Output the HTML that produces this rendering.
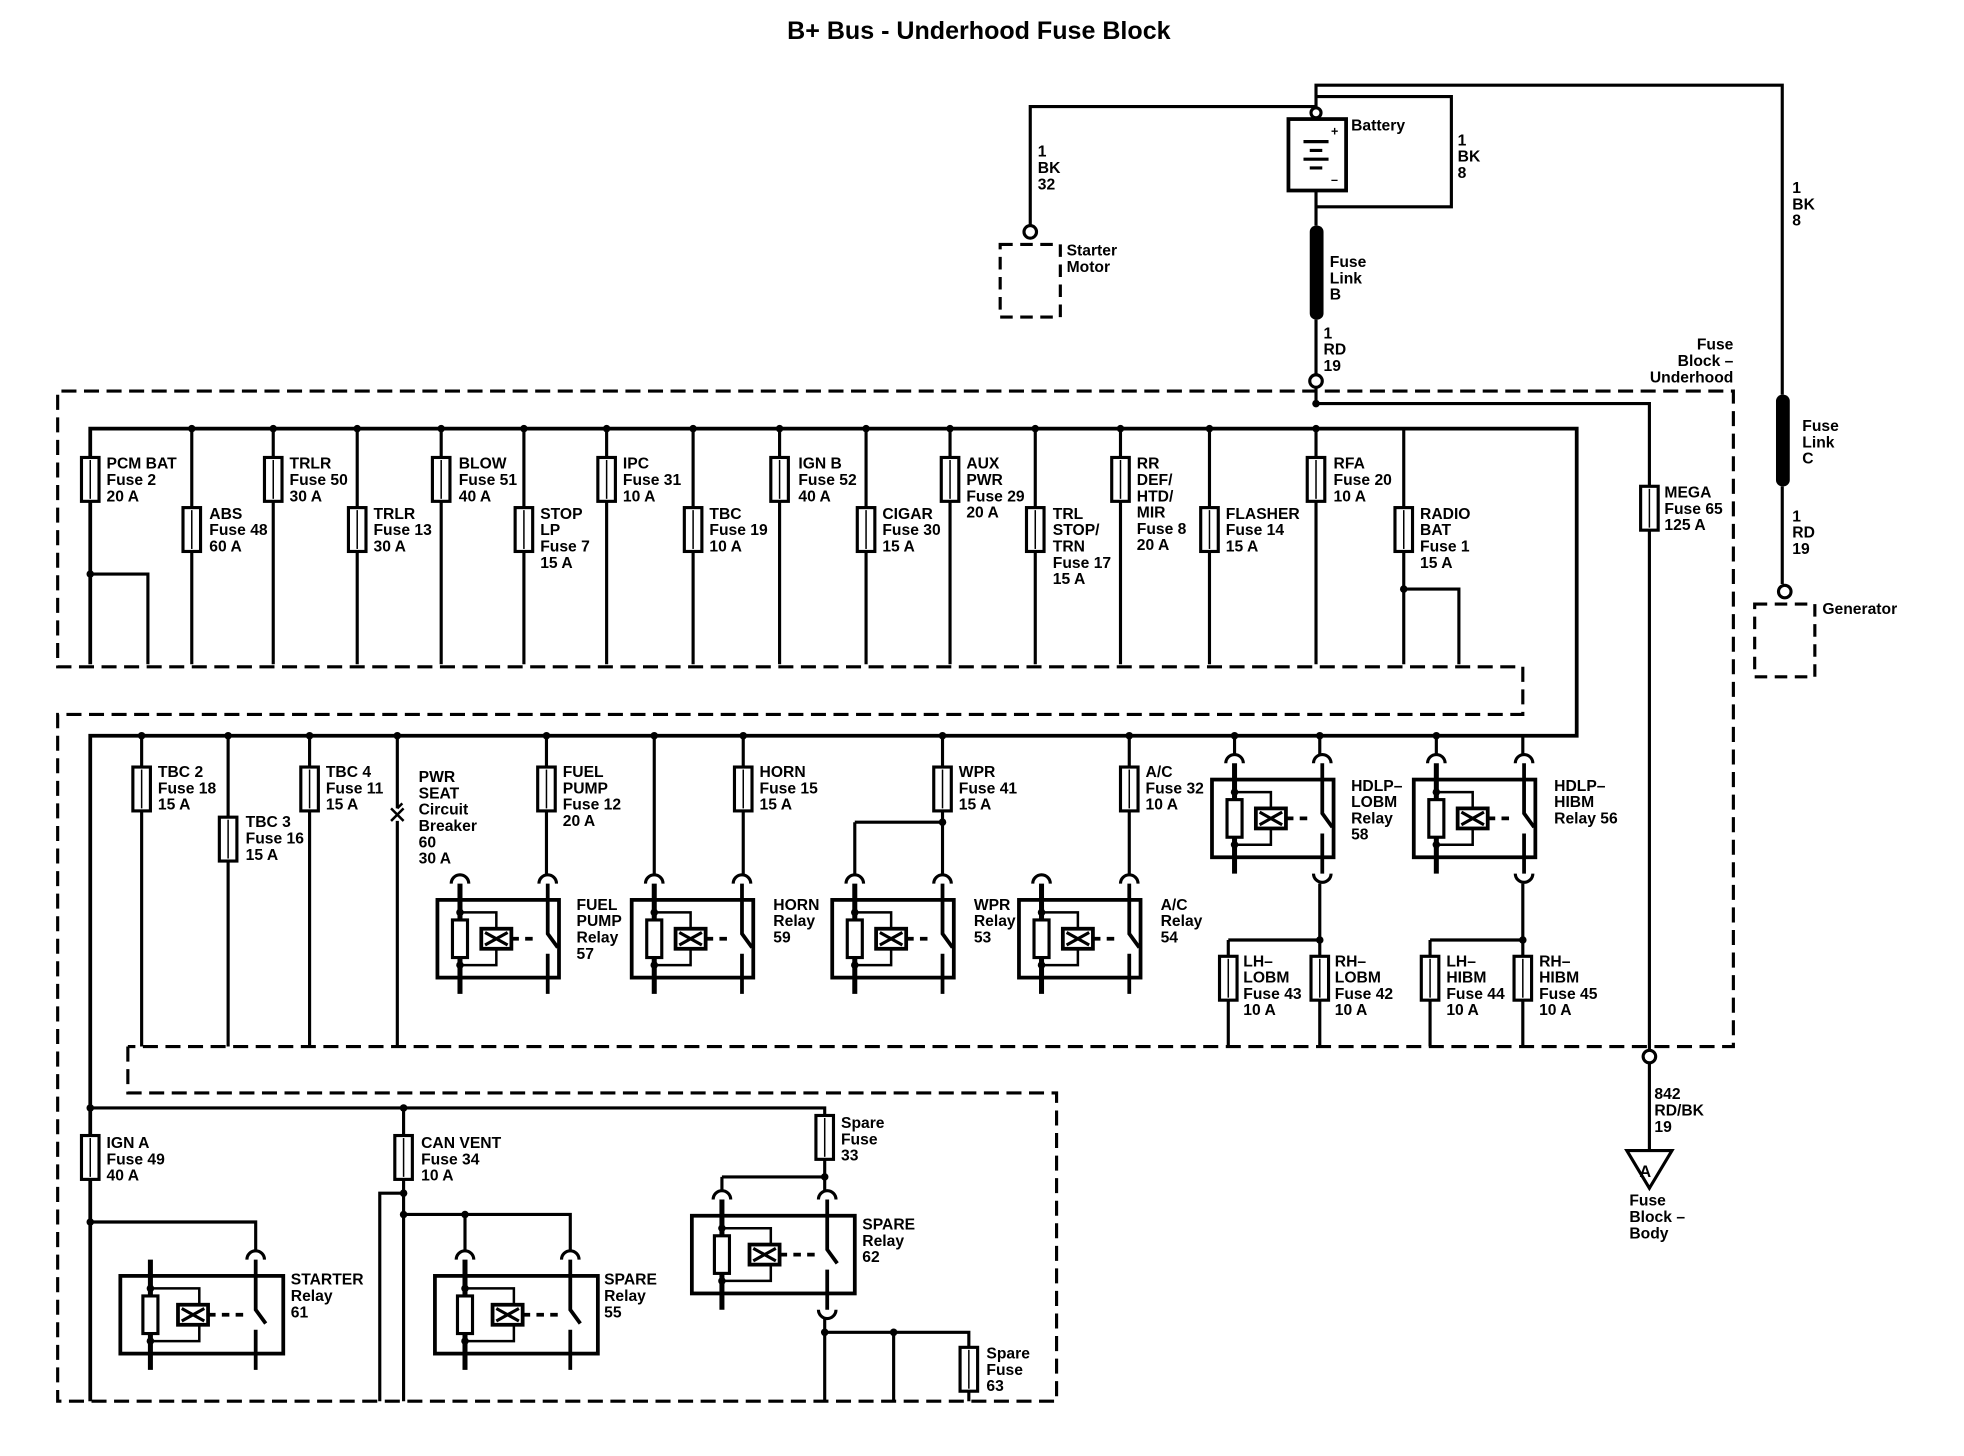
<!DOCTYPE html>
<html><head><meta charset="utf-8"><style>
html,body{margin:0;padding:0;background:#fff}
svg{display:block}
text{font-family:"Liberation Sans",Arial,sans-serif;font-weight:bold;font-size:12.5px;fill:#000}
</style></head><body>
<svg width="1964" height="1456" viewBox="0 0 1567 1161.7" xmlns="http://www.w3.org/2000/svg">
<defs>
<g id="fu"><rect x="-7" y="0" width="14" height="35" fill="#fff" stroke="#000" stroke-width="2.5"/><line x1="0" y1="2" x2="0" y2="33" stroke="#000" stroke-width="1.2"/></g>
<path id="an" d="M-7 0 A7 7 0 0 1 7 0" fill="none" stroke="#000" stroke-width="2.5"/>
<path id="au" d="M-7 0 A7 7 0 0 0 7 0" fill="none" stroke="#000" stroke-width="2.5"/>
<g id="rA" stroke="#000" fill="none">
<rect x="-18" y="0" width="97" height="62" stroke-width="3"/>
<line x1="0" y1="-13" x2="0" y2="75" stroke-width="4"/>
<path d="M0 10 H29 V22 M0 52 H29 V40" stroke-width="2"/>
<rect x="-6" y="16" width="12" height="30" fill="#fff" stroke-width="2.5"/>
<rect x="17" y="23" width="24" height="16" fill="#fff" stroke-width="3"/>
<path d="M20 26 L38 36 M38 26 L20 36" stroke-width="2.5"/>
<line x1="41" y1="31" x2="62" y2="31" stroke-width="3" stroke-dasharray="6 5"/>
<path d="M70 -13 V27 L78 38 M70 43 V75" stroke-width="3"/>
<circle cx="0" cy="10" r="3" fill="#000" stroke="none"/><circle cx="0" cy="52" r="3" fill="#000" stroke="none"/>
</g>
<g id="rB" stroke="#000" fill="none">
<rect x="-24" y="0" width="130" height="62" stroke-width="3"/>
<line x1="0" y1="-13" x2="0" y2="75" stroke-width="4"/>
<path d="M0 10 H39 V22 M0 52 H39 V40" stroke-width="2"/>
<rect x="-6" y="16" width="12" height="30" fill="#fff" stroke-width="2.5"/>
<rect x="22" y="23" width="24" height="16" fill="#fff" stroke-width="3"/>
<path d="M25 26 L43 36 M43 26 L25 36" stroke-width="2.5"/>
<line x1="46" y1="31" x2="76" y2="31" stroke-width="3" stroke-dasharray="6 5"/>
<path d="M84 -13 V27 L92 38 M84 43 V75" stroke-width="3"/>
<circle cx="0" cy="10" r="3" fill="#000" stroke="none"/><circle cx="0" cy="52" r="3" fill="#000" stroke="none"/>
</g>
</defs>

<text x="781" y="31" text-anchor="middle" style="font-size:20px">B+ Bus - Underhood Fuse Block</text>

<path d="M102 835 V872 H843 V1118 H46 V570 H1215 V532 H46 V312 H1383 V835 H102" fill="none" stroke="#000" stroke-width="2.5" stroke-dasharray="12 6"/>

<g stroke="#000" stroke-width="2.5" fill="none">
<path d="M1050 86 V68 H1422 V315 M1422 388 V466"/>
<path d="M1050 85 H822 V180"/>
<path d="M1050 77 H1158 V165 H1050 V180 M1050 152 V165 M1050 255 V298 M1050 310 V322 H1316 V388 M1316 420 V838 M1316 848 V918"/>
<path d="M1298 918 H1334 L1316 948 Z"/>
<rect x="1028" y="95" width="46" height="57" stroke-width="3"/>
<path d="M1040 113 H1060 M1045 120 H1055 M1040 127 H1060 M1045 134 H1055"/>
<circle cx="822" cy="185" r="5"/><circle cx="1050" cy="304" r="5"/><circle cx="1424" cy="472" r="5"/><circle cx="1316" cy="843" r="5"/><circle cx="1050" cy="90" r="4"/>
<rect x="798" y="195" width="48" height="58" stroke-dasharray="10 6"/>
<rect x="1400" y="482" width="48" height="58" stroke-dasharray="10 6"/>
</g>
<rect x="1045" y="180" width="11" height="75" rx="5" fill="#000"/>
<rect x="1417" y="315" width="11" height="73" rx="5" fill="#000"/>
<text x="1062" y="108" style="font-size:10px">+</text><text x="1062" y="147" style="font-size:10px">–</text>
<text x="1308" y="939" style="font-size:13px">A</text>

<g stroke="#000" fill="none">
<path d="M72 530 V342 H1258 V587 H72 V1118" stroke-width="3"/>
<g stroke-width="2.5">
<path d="M72 458 H118 V530 M1120 470 H1164 V530"/>
<path d="M153 342V530 M218 342V530 M285 342V530 M352 342V530 M418 342V530 M484 342V530 M553 342V530 M622 342V530 M691 342V530 M758 342V530 M826 342V530 M894 342V530 M965 342V530 M1050 342V530 M1120 342V530"/>
<path d="M113 587V835 M182 587V835 M247 587V835 M317 587V645 M317 655V835"/>
<path d="M436 587V698 M522 587V698 M593 587V698 M752 587V698 M682 656H752 M682 656V698 M901 587V698"/>
<path d="M985 587V602 M1053 587V602 M1146 587V602 M1215 587V602"/>
<path d="M1053 705V835 M980 750H1053 M980 750V835 M1215 705V835 M1141 750H1215 M1141 750V835"/>
<path d="M72 884H658 V939 M576 939H658 M576 939V950 M658 939V950"/>
<path d="M72 975H204V998 M322 884V1118 M303 1118V952H322 M322 969H455V998 M371 969V998"/>
<path d="M658 1052V1118 M658 1063H773V1118 M713 1063V1118"/>
</g>
<path d="M312 645 L322 655 M322 645 L312 655 M317 645 L321 641" stroke-width="2"/>
</g>

<g fill="#000">
<circle cx="72" cy="458" r="3"/><circle cx="1120" cy="470" r="3"/>
<circle cx="113" cy="587" r="3"/><circle cx="182" cy="587" r="3"/><circle cx="247" cy="587" r="3"/><circle cx="317" cy="587" r="3"/><circle cx="436" cy="587" r="3"/><circle cx="522" cy="587" r="3"/><circle cx="593" cy="587" r="3"/><circle cx="752" cy="587" r="3"/><circle cx="901" cy="587" r="3"/><circle cx="985" cy="587" r="3"/><circle cx="1053" cy="587" r="3"/><circle cx="1146" cy="587" r="3"/>
<circle cx="752" cy="656" r="3"/><circle cx="1053" cy="750" r="3"/><circle cx="1215" cy="750" r="3"/>
<circle cx="72" cy="884" r="3"/><circle cx="322" cy="884" r="3"/><circle cx="658" cy="939" r="3"/><circle cx="72" cy="975" r="3"/><circle cx="322" cy="952" r="3"/><circle cx="322" cy="969" r="3"/><circle cx="371" cy="969" r="3"/><circle cx="658" cy="1063" r="3"/><circle cx="713" cy="1063" r="3"/>
<circle cx="1050" cy="322" r="3"/>
<circle cx="153" cy="342" r="3"/><circle cx="218" cy="342" r="3"/><circle cx="285" cy="342" r="3"/><circle cx="352" cy="342" r="3"/><circle cx="418" cy="342" r="3"/><circle cx="484" cy="342" r="3"/><circle cx="553" cy="342" r="3"/><circle cx="622" cy="342" r="3"/><circle cx="691" cy="342" r="3"/><circle cx="758" cy="342" r="3"/><circle cx="826" cy="342" r="3"/><circle cx="894" cy="342" r="3"/><circle cx="965" cy="342" r="3"/><circle cx="1050" cy="342" r="3"/>
</g>

<use href="#fu" x="1316" y="388"/>
<use href="#fu" x="72" y="365"/><use href="#fu" x="153" y="405"/><use href="#fu" x="218" y="365"/><use href="#fu" x="285" y="405"/><use href="#fu" x="352" y="365"/><use href="#fu" x="418" y="405"/><use href="#fu" x="484" y="365"/><use href="#fu" x="553" y="405"/><use href="#fu" x="622" y="365"/><use href="#fu" x="691" y="405"/><use href="#fu" x="758" y="365"/><use href="#fu" x="826" y="405"/><use href="#fu" x="894" y="365"/><use href="#fu" x="965" y="405"/><use href="#fu" x="1050" y="365"/><use href="#fu" x="1120" y="405"/>
<use href="#fu" x="113" y="612"/><use href="#fu" x="182" y="652"/><use href="#fu" x="247" y="612"/><use href="#fu" x="436" y="612"/><use href="#fu" x="593" y="612"/><use href="#fu" x="752" y="612"/><use href="#fu" x="901" y="612"/>
<use href="#fu" x="980" y="763"/><use href="#fu" x="1053" y="763"/><use href="#fu" x="1141" y="763"/><use href="#fu" x="1215" y="763"/>
<use href="#fu" x="72" y="906"/><use href="#fu" x="322" y="906"/><use href="#fu" x="658" y="890"/><use href="#fu" x="773" y="1075"/>

<use href="#rA" x="367" y="718"/><use href="#rA" x="522" y="718"/><use href="#rA" x="682" y="718"/><use href="#rA" x="831" y="718"/>
<use href="#rA" x="985" y="622"/><use href="#rA" x="1146" y="622"/>
<use href="#rB" x="120" y="1018"/><use href="#rB" x="371" y="1018"/><use href="#rB" x="576" y="970"/>
<use href="#an" x="367" y="705"/><use href="#an" x="437" y="705"/><use href="#an" x="522" y="705"/><use href="#an" x="592" y="705"/><use href="#an" x="682" y="705"/><use href="#an" x="752" y="705"/><use href="#an" x="831" y="705"/><use href="#an" x="901" y="705"/>
<use href="#an" x="985" y="609"/><use href="#an" x="1055" y="609"/><use href="#an" x="1146" y="609"/><use href="#an" x="1216" y="609"/>
<use href="#au" x="1055" y="697"/><use href="#au" x="1216" y="697"/>
<use href="#an" x="204" y="1005"/><use href="#an" x="371" y="1005"/><use href="#an" x="455" y="1005"/>
<use href="#an" x="576" y="957"/><use href="#an" x="660" y="957"/><use href="#au" x="660" y="1045"/>

<g>
<text x="828" y="125">1<tspan x="828" dy="13">BK</tspan><tspan x="828" dy="13">32</tspan></text>
<text x="851" y="204">Starter<tspan x="851" dy="13">Motor</tspan></text>
<text x="1078" y="104">Battery</text>
<text x="1163" y="116">1<tspan x="1163" dy="13">BK</tspan><tspan x="1163" dy="13">8</tspan></text>
<text x="1061" y="213">Fuse<tspan x="1061" dy="13">Link</tspan><tspan x="1061" dy="13">B</tspan></text>
<text x="1056" y="270">1<tspan x="1056" dy="13">RD</tspan><tspan x="1056" dy="13">19</tspan></text>
<text x="1383" y="279" text-anchor="end">Fuse<tspan x="1383" dy="13">Block –</tspan><tspan x="1383" dy="13">Underhood</tspan></text>
<text x="1430" y="154">1<tspan x="1430" dy="13">BK</tspan><tspan x="1430" dy="13">8</tspan></text>
<text x="1438" y="344">Fuse<tspan x="1438" dy="13">Link</tspan><tspan x="1438" dy="13">C</tspan></text>
<text x="1430" y="416">1<tspan x="1430" dy="13">RD</tspan><tspan x="1430" dy="13">19</tspan></text>
<text x="1454" y="490">Generator</text>
<text x="1328" y="397">MEGA<tspan x="1328" dy="13">Fuse 65</tspan><tspan x="1328" dy="13">125 A</tspan></text>
<text x="1320" y="877">842<tspan x="1320" dy="13">RD/BK</tspan><tspan x="1320" dy="13">19</tspan></text>
<text x="1300" y="962">Fuse<tspan x="1300" dy="13">Block –</tspan><tspan x="1300" dy="13">Body</tspan></text>

<text x="85" y="374">PCM BAT<tspan x="85" dy="13">Fuse 2</tspan><tspan x="85" dy="13">20 A</tspan></text>
<text x="167" y="414">ABS<tspan x="167" dy="13">Fuse 48</tspan><tspan x="167" dy="13">60 A</tspan></text>
<text x="231" y="374">TRLR<tspan x="231" dy="13">Fuse 50</tspan><tspan x="231" dy="13">30 A</tspan></text>
<text x="298" y="414">TRLR<tspan x="298" dy="13">Fuse 13</tspan><tspan x="298" dy="13">30 A</tspan></text>
<text x="366" y="374">BLOW<tspan x="366" dy="13">Fuse 51</tspan><tspan x="366" dy="13">40 A</tspan></text>
<text x="431" y="414">STOP<tspan x="431" dy="13">LP</tspan><tspan x="431" dy="13">Fuse 7</tspan><tspan x="431" dy="13">15 A</tspan></text>
<text x="497" y="374">IPC<tspan x="497" dy="13">Fuse 31</tspan><tspan x="497" dy="13">10 A</tspan></text>
<text x="566" y="414">TBC<tspan x="566" dy="13">Fuse 19</tspan><tspan x="566" dy="13">10 A</tspan></text>
<text x="637" y="374">IGN B<tspan x="637" dy="13">Fuse 52</tspan><tspan x="637" dy="13">40 A</tspan></text>
<text x="704" y="414">CIGAR<tspan x="704" dy="13">Fuse 30</tspan><tspan x="704" dy="13">15 A</tspan></text>
<text x="771" y="374">AUX<tspan x="771" dy="13">PWR</tspan><tspan x="771" dy="13">Fuse 29</tspan><tspan x="771" dy="13">20 A</tspan></text>
<text x="840" y="414">TRL<tspan x="840" dy="13">STOP/</tspan><tspan x="840" dy="13">TRN</tspan><tspan x="840" dy="13">Fuse 17</tspan><tspan x="840" dy="13">15 A</tspan></text>
<text x="907" y="374">RR<tspan x="907" dy="13">DEF/</tspan><tspan x="907" dy="13">HTD/</tspan><tspan x="907" dy="13">MIR</tspan><tspan x="907" dy="13">Fuse 8</tspan><tspan x="907" dy="13">20 A</tspan></text>
<text x="978" y="414">FLASHER<tspan x="978" dy="13">Fuse 14</tspan><tspan x="978" dy="13">15 A</tspan></text>
<text x="1064" y="374">RFA<tspan x="1064" dy="13">Fuse 20</tspan><tspan x="1064" dy="13">10 A</tspan></text>
<text x="1133" y="414">RADIO<tspan x="1133" dy="13">BAT</tspan><tspan x="1133" dy="13">Fuse 1</tspan><tspan x="1133" dy="13">15 A</tspan></text>

<text x="126" y="620">TBC 2<tspan x="126" dy="13">Fuse 18</tspan><tspan x="126" dy="13">15 A</tspan></text>
<text x="196" y="660">TBC 3<tspan x="196" dy="13">Fuse 16</tspan><tspan x="196" dy="13">15 A</tspan></text>
<text x="260" y="620">TBC 4<tspan x="260" dy="13">Fuse 11</tspan><tspan x="260" dy="13">15 A</tspan></text>
<text x="334" y="624">PWR<tspan x="334" dy="13">SEAT</tspan><tspan x="334" dy="13">Circuit</tspan><tspan x="334" dy="13">Breaker</tspan><tspan x="334" dy="13">60</tspan><tspan x="334" dy="13">30 A</tspan></text>
<text x="449" y="620">FUEL<tspan x="449" dy="13">PUMP</tspan><tspan x="449" dy="13">Fuse 12</tspan><tspan x="449" dy="13">20 A</tspan></text>
<text x="606" y="620">HORN<tspan x="606" dy="13">Fuse 15</tspan><tspan x="606" dy="13">15 A</tspan></text>
<text x="765" y="620">WPR<tspan x="765" dy="13">Fuse 41</tspan><tspan x="765" dy="13">15 A</tspan></text>
<text x="914" y="620">A/C<tspan x="914" dy="13">Fuse 32</tspan><tspan x="914" dy="13">10 A</tspan></text>
<text x="1078" y="631">HDLP–<tspan x="1078" dy="13">LOBM</tspan><tspan x="1078" dy="13">Relay</tspan><tspan x="1078" dy="13">58</tspan></text>
<text x="1240" y="631">HDLP–<tspan x="1240" dy="13">HIBM</tspan><tspan x="1240" dy="13">Relay 56</tspan></text>
<text x="460" y="726">FUEL<tspan x="460" dy="13">PUMP</tspan><tspan x="460" dy="13">Relay</tspan><tspan x="460" dy="13">57</tspan></text>
<text x="617" y="726">HORN<tspan x="617" dy="13">Relay</tspan><tspan x="617" dy="13">59</tspan></text>
<text x="777" y="726">WPR<tspan x="777" dy="13">Relay</tspan><tspan x="777" dy="13">53</tspan></text>
<text x="926" y="726">A/C<tspan x="926" dy="13">Relay</tspan><tspan x="926" dy="13">54</tspan></text>
<text x="992" y="771">LH–<tspan x="992" dy="13">LOBM</tspan><tspan x="992" dy="13">Fuse 43</tspan><tspan x="992" dy="13">10 A</tspan></text>
<text x="1065" y="771">RH–<tspan x="1065" dy="13">LOBM</tspan><tspan x="1065" dy="13">Fuse 42</tspan><tspan x="1065" dy="13">10 A</tspan></text>
<text x="1154" y="771">LH–<tspan x="1154" dy="13">HIBM</tspan><tspan x="1154" dy="13">Fuse 44</tspan><tspan x="1154" dy="13">10 A</tspan></text>
<text x="1228" y="771">RH–<tspan x="1228" dy="13">HIBM</tspan><tspan x="1228" dy="13">Fuse 45</tspan><tspan x="1228" dy="13">10 A</tspan></text>

<text x="85" y="916">IGN A<tspan x="85" dy="13">Fuse 49</tspan><tspan x="85" dy="13">40 A</tspan></text>
<text x="336" y="916">CAN VENT<tspan x="336" dy="13">Fuse 34</tspan><tspan x="336" dy="13">10 A</tspan></text>
<text x="671" y="900">Spare<tspan x="671" dy="13">Fuse</tspan><tspan x="671" dy="13">33</tspan></text>
<text x="688" y="981">SPARE<tspan x="688" dy="13">Relay</tspan><tspan x="688" dy="13">62</tspan></text>
<text x="232" y="1025">STARTER<tspan x="232" dy="13">Relay</tspan><tspan x="232" dy="13">61</tspan></text>
<text x="482" y="1025">SPARE<tspan x="482" dy="13">Relay</tspan><tspan x="482" dy="13">55</tspan></text>
<text x="787" y="1084">Spare<tspan x="787" dy="13">Fuse</tspan><tspan x="787" dy="13">63</tspan></text>
</g>
</svg>
</body></html>
